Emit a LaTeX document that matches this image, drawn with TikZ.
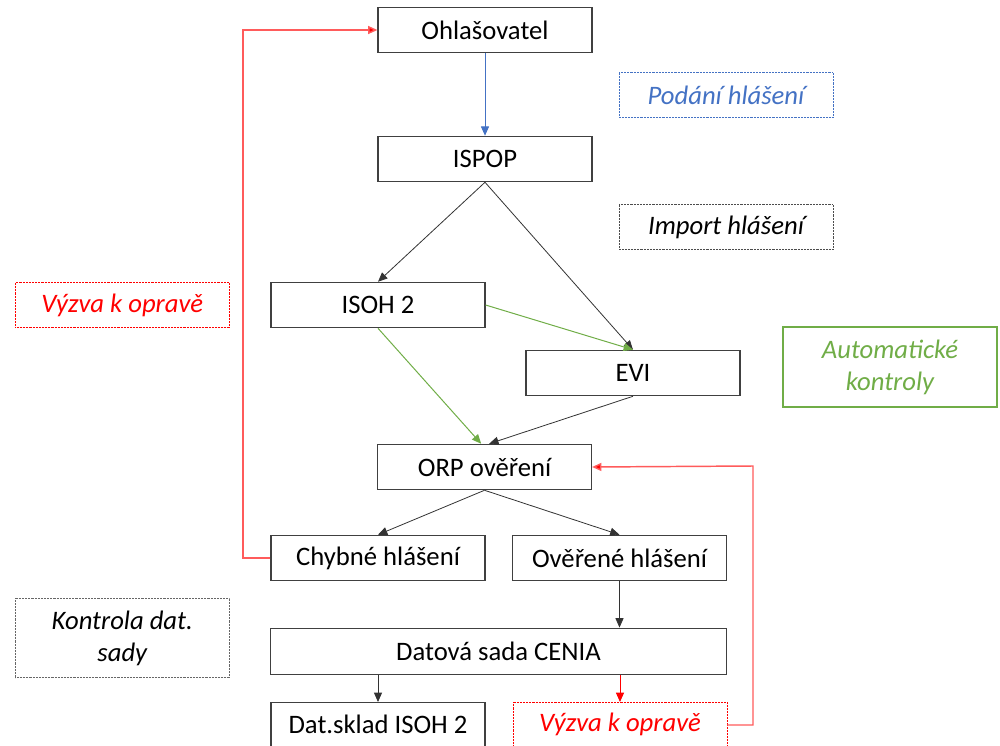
\documentclass[tikz,border=0pt]{standalone}
\usepackage{fontspec}
\setmainfont{Carlito}
\usetikzlibrary{arrows.meta}
\definecolor{cblue}{HTML}{4472C4}
\definecolor{cgreen}{HTML}{70AD47}
\definecolor{cred}{HTML}{FF0000}
\definecolor{clred}{HTML}{FF5B5B}
\definecolor{cborder}{HTML}{404040}
\begin{document}
\begin{tikzpicture}[x=0.75pt,y=-0.75pt,
  every node/.style={font=\fontsize{20}{24}\selectfont},
  box/.style={draw=cborder,line width=0.9pt,rectangle,minimum width=160.5pt,minimum height=34pt,inner sep=0pt,fill=white},
  lbl/.style={rectangle,minimum width=160.5pt,minimum height=34pt,inner sep=0pt,line width=0.6pt,dash pattern=on 0.6pt off 0.5pt,font=\fontsize{20}{24}\selectfont\itshape,align=center},
  tip/.style={-{Triangle[length=7pt,width=6pt]}},
  blk/.style={tip,draw=black!80,line width=0.6pt},
  grn/.style={tip,draw=cgreen,line width=0.75pt},
  blu/.style={tip,draw=cblue,line width=0.75pt},
  rdl/.style={-{Triangle[length=7pt,width=6pt,fill=cred]},draw=clred,line width=1.1pt},
]
\useasboundingbox (0,0) rectangle (1000,746);
% main boxes
\node[box] (ohl) at (485,30) {Ohlašovatel};
\node[box] (ispop) at (485,159) {ISPOP};
\node[box] (isoh) at (378,305) {ISOH 2};
\node[box] (evi) at (633,373) {EVI};
\node[box] (orp) at (484.5,467) {ORP ověření};
\node[box] (chyb) at (378,558) {Chybné hlášení};
\node[box] (over) at (619.5,558) {Ověřené hlášení};
\node[box,minimum width=341.5pt,minimum height=35pt] (cenia) at (498.5,651.5) {Datová sada CENIA};
\node[box,minimum height=40pt,anchor=north] (sklad) at (378,702) {};
\node at (378,724) {Dat.sklad ISOH 2};
\node[lbl,draw=cred,text=cred,minimum height=40pt,anchor=north,fill=white] (vyzb) at (620,702) {};
\node[text=cred,font=\fontsize{20}{24}\selectfont\itshape] at (620,724) {Výzva k opravě};
\coordinate (vyzbr) at (727,725);
% label boxes
\node[lbl,draw=cblue,text=cblue] (podani) at (726,95) {Podání hlášení};
\node[lbl,draw=black!70,text=black] (import) at (726,227) {Import hlášení};
\node[lbl,draw=cred,text=cred] (vyzl) at (122.3,305) {Výzva k opravě};
\node[lbl,draw=cgreen,text=cgreen,solid,line width=0.9pt,minimum height=60pt] (auto) at (890,367) {Automatické\\kontroly};
\node[lbl,draw=black!60,text=black,minimum height=59.5pt] (kontrola) at (122.3,638) {Kontrola dat.\\sady};
% connectors
\draw[blu] (ohl.south) -- (ispop.north);
\draw[blk] (ispop.south) -- (isoh.north);
\draw[blk] (ispop.south) -- (evi.north);
\draw[grn] (isoh.east) -- (evi.north);
\draw[grn] (isoh.south) -- ([xshift=-2.5pt]orp.north);
\draw[blk] (evi.south) -- ([xshift=3.5pt]orp.north);
\draw[blk] (orp.south) -- (chyb.north);
\draw[blk] (orp.south) -- (over.north);
\draw[blk] (over.south) -- (over.south |- cenia.north);
\draw[blk] (sklad.north |- cenia.south) -- (sklad.north);
\draw[tip,draw=cred,line width=0.75pt,-{Triangle[length=7pt,width=6pt,fill=cred]}] (vyzb.north |- cenia.south) -- (vyzb.north);
\draw[rdl] (vyzbr) -- (753,725) -- (753,466) -- (orp.east);
\draw[rdl] (chyb.west) -- (243,558) -- (243,30) -- (ohl.west);
\end{tikzpicture}
\end{document}
